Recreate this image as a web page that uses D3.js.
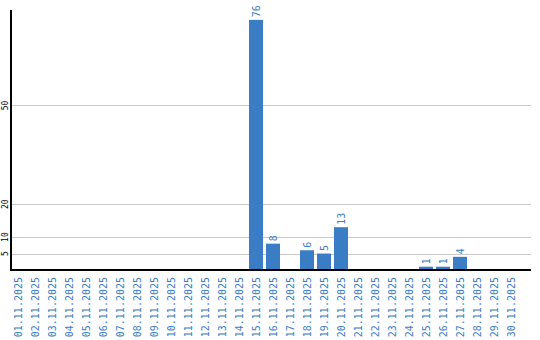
<!DOCTYPE html>
<html>
<head>
<meta charset="utf-8">
<script src="https://cdn.jsdelivr.net/npm/d3@7"></script>
<style>
  html, body { margin: 0; padding: 0; background: #fff; }
  svg { display: block; }
  text { font-family: "DejaVu Sans Mono", "Liberation Mono", monospace; }
</style>
</head>
<body>
<svg id="chart" width="540" height="340"></svg>
<script>
const categories = ["01.11.2025","02.11.2025","03.11.2025","04.11.2025","05.11.2025","06.11.2025","07.11.2025","08.11.2025","09.11.2025","10.11.2025","11.11.2025","12.11.2025","13.11.2025","14.11.2025","15.11.2025","16.11.2025","17.11.2025","18.11.2025","19.11.2025","20.11.2025","21.11.2025","22.11.2025","23.11.2025","24.11.2025","25.11.2025","26.11.2025","27.11.2025","28.11.2025","29.11.2025","30.11.2025"];
const values = [0,0,0,0,0,0,0,0,0,0,0,0,0,0,76,8,0,6,5,13,0,0,0,0,1,1,4,0,0,0];
const yTicks = [5, 10, 20, 50];

const blue = "#3b7dc4";
const svg = d3.select("#chart");

const x = d3.scaleBand().domain(categories).range([11, 521]).paddingInner(0).paddingOuter(0);
const y = d3.scaleLinear().domain([0, 79]).range([270, 10]);
const barW = x.bandwidth() * 14 / 17;

// gridlines
svg.append("g").selectAll("line").data(yTicks).join("line")
  .attr("x1", 11).attr("x2", 531)
  .attr("y1", d => Math.round(y(d)) + 0.5).attr("y2", d => Math.round(y(d)) + 0.5)
  .attr("stroke", "#c8c8c8").attr("stroke-width", 1);

// y tick labels
svg.append("g").selectAll("text").data(yTicks).join("text")
  .attr("transform", d => `translate(5,${y(d)}) rotate(-90)`)
  .attr("text-anchor", "middle").attr("dy", "0.35em")
  .attr("font-size", 8).attr("fill", "#000")
  .text(d => d);

const data = categories.map((c, i) => ({c, v: values[i]}));

// bars
svg.append("g").selectAll("rect").data(data.filter(d => d.v > 0)).join("rect")
  .attr("x", d => x(d.c)).attr("width", barW)
  .attr("y", d => y(d.v)).attr("height", d => y(0) - y(d.v))
  .attr("fill", blue);

// value labels
svg.append("g").selectAll("text").data(data.filter(d => d.v > 0)).join("text")
  .attr("transform", d => `translate(${x(d.c) + barW / 2},${y(d.v) - 2.5}) rotate(-90)`)
  .attr("text-anchor", "start").attr("dy", "0.35em")
  .attr("font-size", 10).attr("fill", blue)
  .text(d => d.v);

// axes lines
svg.append("line").attr("x1", 11).attr("x2", 11).attr("y1", 10).attr("y2", 271)
  .attr("stroke", "#000").attr("stroke-width", 2);
svg.append("line").attr("x1", 10).attr("x2", 531).attr("y1", 270).attr("y2", 270)
  .attr("stroke", "#000").attr("stroke-width", 2);

// x labels
svg.append("g").selectAll("text").data(categories).join("text")
  .attr("transform", d => `translate(${x(d) + barW / 2},277) rotate(-90)`)
  .attr("text-anchor", "end").attr("dy", "0.35em")
  .attr("font-size", 10).attr("fill", blue)
  .text(d => d);
</script>
</body>
</html>
